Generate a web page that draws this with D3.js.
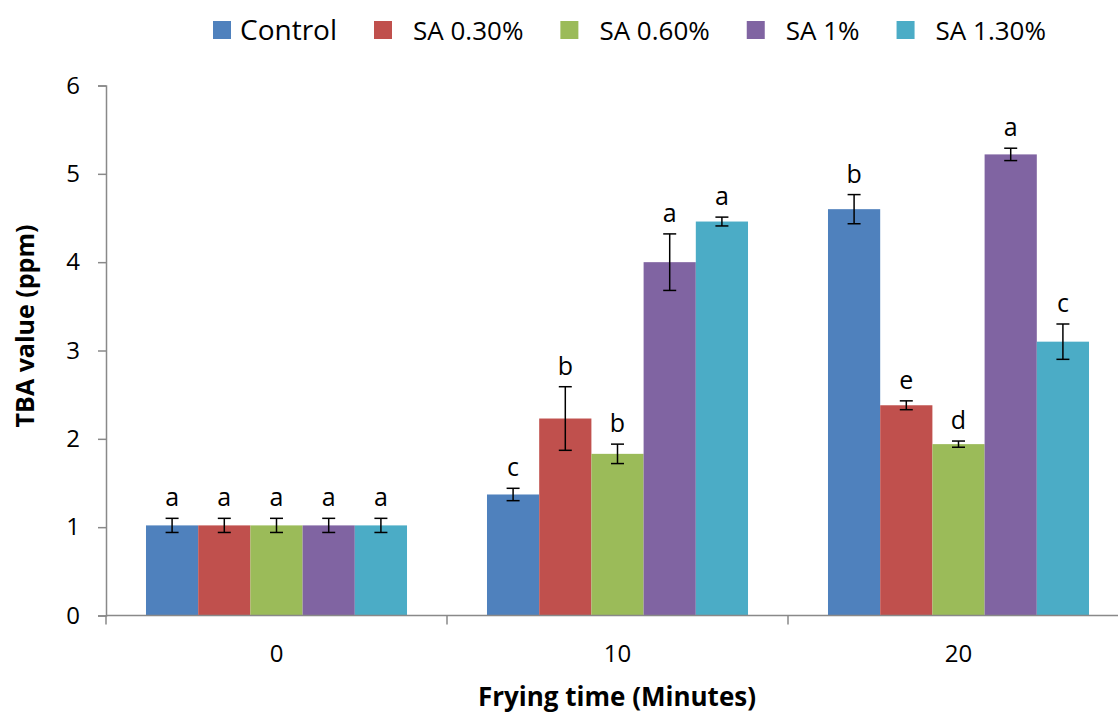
<!DOCTYPE html>
<html lang="en">
<head>
<meta charset="UTF-8">
<title>TBA value</title>
<script src="https://d3js.org/d3.v7.min.js"></script>
<style>
  body { margin: 0; background: #fff; }
  svg { display: block; font-family: "Open Sans", sans-serif; }
  .axis path, .axis line { stroke: #898989; stroke-width: 1.5; }
  .axis text { fill: #000; font-family: "Open Sans", sans-serif; }
</style>
</head>
<body>
<script>
// frying time groups
const categories = ["0", "10", "20"];
const series = ["Control", "SA 0.30%", "SA 0.60%", "SA 1%", "SA 1.30%"];
const colors = ["#4F81BD", "#C0504D", "#9BBB59", "#8064A2", "#4BACC6"];

// mean values per series, one per frying time
const control = [1.02, 1.37, 4.60];
const sa030   = [1.02, 2.23, 2.38];
const sa060   = [1.02, 1.83, 1.94];
const sa100   = [1.02, 4.00, 5.22];
const sa130   = [1.02, 4.46, 3.10];

// error bar half-widths
const errControl = [0.08, 0.07, 0.165];
const err030     = [0.08, 0.36, 0.05];
const err060     = [0.08, 0.11, 0.035];
const err100     = [0.08, 0.32, 0.07];
const err130     = [0.08, 0.05, 0.20];

// significance letters
const letControl = ["a", "c", "b"];
const let030     = ["a", "b", "e"];
const let060     = ["a", "b", "d"];
const let100     = ["a", "a", "a"];
const let130     = ["a", "a", "c"];

const yTicks = [0, 1, 2, 3, 4, 5, 6];

const values = [control, sa030, sa060, sa100, sa130];
const errors = [errControl, err030, err060, err100, err130];
const letters = [letControl, let030, let060, let100, let130];

const W = 1118, H = 715;
const svg = d3.select("body").append("svg").attr("width", W).attr("height", H);

const x0 = d3.scaleBand().domain(categories).range([106, 1129]).padding(0);
const x1 = d3.scaleBand().domain(series).range([0, x0.bandwidth()])
    .paddingInner(0).paddingOuter(0.766);
const y = d3.scaleLinear().domain([0, 6]).range([615.5, 85.5]);

// flatten into bars
let bars = [];
series.forEach((s, si) => {
  categories.forEach((c, ci) => {
    bars.push({s: s, c: c, v: values[si][ci], e: errors[si][ci], l: letters[si][ci], color: colors[si]});
  });
});

const g = svg.append("g");
g.selectAll("rect.bar")
  .data(bars)
  .enter()
  .append("rect")
  .attr("class", "bar")
  .attr("x", d => x0(d.c) + x1(d.s))
  .attr("width", x1.bandwidth())
  .attr("y", d => y(d.v))
  .attr("height", d => y(0) - y(d.v))
  .attr("fill", d => d.color);

// error bars
const eb = g.selectAll("g.err").data(bars).enter().append("g").attr("class", "err")
  .attr("transform", d => `translate(${x0(d.c) + x1(d.s) + x1.bandwidth() / 2},0)`);
eb.append("line").attr("x1", 0).attr("x2", 0)
  .attr("y1", d => y(d.v + d.e)).attr("y2", d => y(d.v - d.e));
eb.append("line").attr("x1", -6.5).attr("x2", 6.5)
  .attr("y1", d => y(d.v + d.e)).attr("y2", d => y(d.v + d.e));
eb.append("line").attr("x1", -6.5).attr("x2", 6.5)
  .attr("y1", d => y(d.v - d.e)).attr("y2", d => y(d.v - d.e));
eb.selectAll("line").attr("stroke", "#000").attr("stroke-width", 1.5);

eb.append("text")
  .attr("x", 0)
  .attr("y", d => y(d.v + d.e) - 12)
  .attr("text-anchor", "middle")
  .attr("font-size", 25)
  .text(d => d.l);

// y axis
const yAxis = svg.append("g").attr("class", "axis")
  .attr("transform", "translate(106,0)")
  .call(d3.axisLeft(y).tickValues(yTicks).tickFormat(d3.format("d"))
    .tickSize(8).tickPadding(18).tickSizeOuter(8));
yAxis.selectAll("text").attr("font-size", 24);

// x axis
const xAxis = svg.append("g").attr("class", "axis")
  .attr("transform", `translate(0,${y(0)})`)
  .call(d3.axisBottom(x0).tickSize(0).tickPadding(29));
xAxis.select(".domain").attr("d", `M${x0.range()[0]},0H${x0.range()[1]}`);
xAxis.selectAll("text").attr("font-size", 24);
const bounds = categories.map(c => x0(c)).concat([x0.range()[1]]);
xAxis.selectAll("line.bound").data(bounds).enter().append("line")
  .attr("class", "bound")
  .attr("x1", d => d).attr("x2", d => d)
  .attr("y1", 0).attr("y2", 9);

// axis titles
svg.append("text")
  .attr("x", 617)
  .attr("y", 706)
  .attr("text-anchor", "middle")
  .attr("font-size", 26)
  .attr("font-weight", "bold")
  .text("Frying time (Minutes)");

svg.append("text")
  .attr("transform", "translate(34,326) rotate(-90)")
  .attr("text-anchor", "middle")
  .attr("font-size", 25)
  .attr("font-weight", "bold")
  .text("TBA value (ppm)");

// legend
const legend = svg.append("g").attr("class", "legend");
let lx = 213;
series.forEach((s, i) => {
  const item = legend.append("g");
  item.append("rect")
    .attr("x", lx).attr("y", 21)
    .attr("width", 18).attr("height", 18)
    .attr("fill", colors[i]);
  const tx = lx + 18 + (i === 0 ? 9 : 21);
  const t = item.append("text")
    .attr("x", tx).attr("y", 40)
    .attr("font-size", i === 0 ? 28 : 26)
    .text(s);
  lx = tx + t.node().getComputedTextLength() + 37;
});
</script>
</body>
</html>
